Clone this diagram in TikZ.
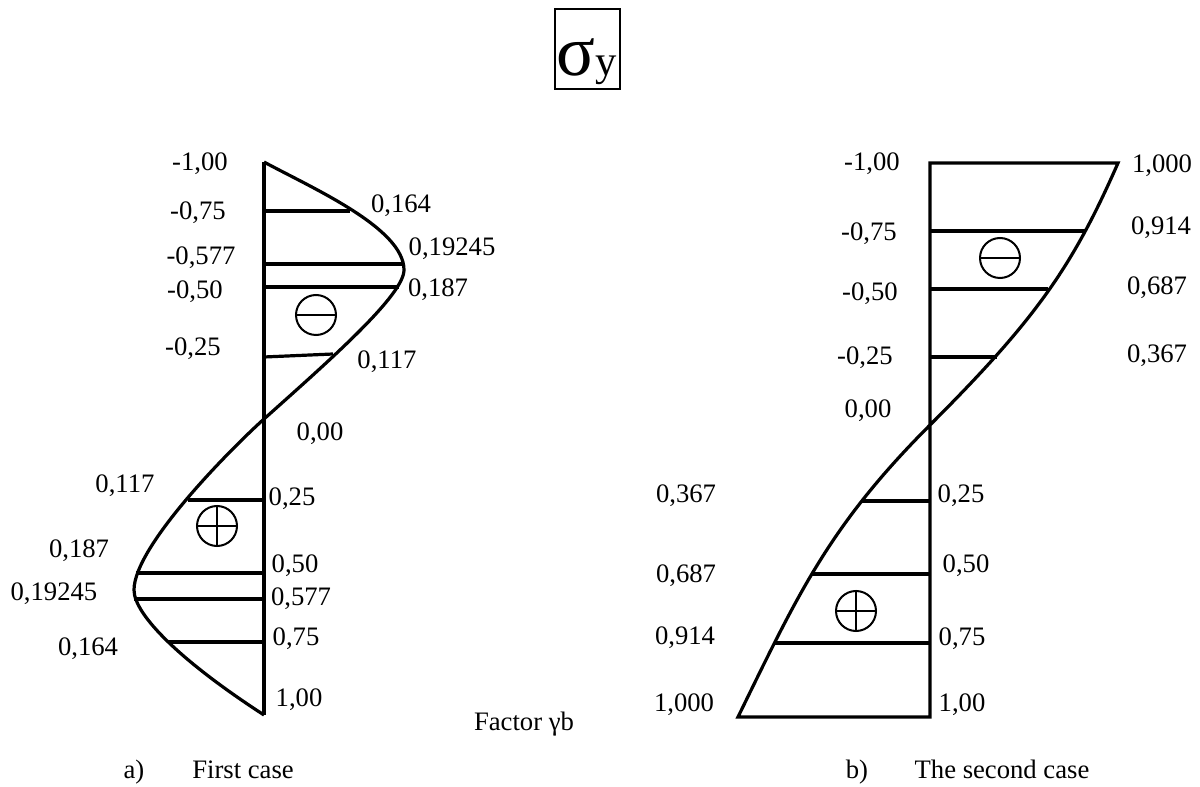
\documentclass[tikz,border=0pt]{standalone}
\usepackage{fontspec}
\setmainfont{Liberation Serif}

\tikzset{
  lbl/.style={anchor=base, inner sep=0pt, font=\fontsize{20}{23}\selectfont},
  sign/.style={circle, draw, line width=1.5pt, minimum size=30pt, inner sep=0pt},
}

\begin{document}
\begin{tikzpicture}[x=0.75pt,y=0.75pt,yscale=-1,xscale=1,line width=2.4pt]
  \useasboundingbox (0,0) rectangle (1200,787);

  %title box
  \node[draw, line width=2pt, minimum width=48.75pt, minimum height=60pt, inner sep=0pt] (title) at (587.5,49) {};
  \node[anchor=base west, inner sep=0pt] (sigma) at (555,76) {\fontsize{54}{54}\selectfont σ\fontsize{32}{32}\selectfont y};

  %first case: points of the curve
  \coordinate (la0) at (264,162);
  \coordinate (la1) at (350,211);
  \coordinate (la3) at (404,264);
  \coordinate (la4) at (399,287);
  \coordinate (la6) at (333,354);
  \coordinate (la7) at (264,419);
  \coordinate (la8) at (188,500);
  \coordinate (la10) at (136,573);
  \coordinate (la11) at (134,599);
  \coordinate (la12) at (168,642);
  \coordinate (la13) at (264,715);

  \draw (la0) -- (la13);
  \draw (la0) .. controls (312,188) and (404,228) .. (404,270)
              .. controls (404,295) and (330,360) .. (la7)
              .. controls (235,445) and (134,545) .. (134,590)
              .. controls (134,615) and (182,662) .. (la13);
  \draw (la1 -| la0) -- (la1);
  \draw (la3 -| la0) -- (la3);
  \draw (la4 -| la0) -- (la4);
  \draw (264,357) -- (la6);
  \draw (la8 -| la0) -- (la8);
  \draw (la10 -| la0) -- (la10);
  \draw (la11 -| la0) -- (la11);
  \draw (la12 -| la0) -- (la12);

  \node[sign] (lminus) at (316,315) {};
  \draw[line width=1.5pt] (lminus.west) -- (lminus.east);
  \node[sign] (lplus) at (217,526) {};
  \draw[line width=1.5pt] (lplus.west) -- (lplus.east) (lplus.north) -- (lplus.south);

  \node[lbl] (lm100) at (200,171) {-1,00};
  \node[lbl] (lm075) at (198,220) {-0,75};
  \node[lbl] (lm0577) at (201,265) {-0,577};
  \node[lbl] (lm050) at (195,299) {-0,50};
  \node[lbl] (lm025) at (193,356) {-0,25};
  \node[lbl] (lv164a) at (401,213) {0,164};
  \node[lbl] (lv192a) at (452,256) {0,19245};
  \node[lbl] (lv187a) at (438,297) {0,187};
  \node[lbl] (lv117a) at (387,369) {0,117};
  \node[lbl] (lz000) at (320,441) {0,00};
  \node[lbl] (lv117b) at (125,493) {0,117};
  \node[lbl] (lp025) at (292,506) {0,25};
  \node[lbl] (lv187b) at (79,558) {0,187};
  \node[lbl] (lp050) at (295,573) {0,50};
  \node[lbl] (lv192b) at (54,601) {0,19245};
  \node[lbl] (lp0577) at (301,605) {0,577};
  \node[lbl] (lv164b) at (88,655) {0,164};
  \node[lbl] (lp075) at (296,646) {0,75};
  \node[lbl] (lp100) at (299,706) {1,00};

  %second case: points of the curve
  \coordinate (rt) at (930,163);
  \coordinate (rb) at (930,717);
  \coordinate (ra0) at (1118,163);
  \coordinate (ra1) at (1086,231);
  \coordinate (ra2) at (1048,289);
  \coordinate (ra3) at (997,357);
  \coordinate (ra4) at (930,425);
  \coordinate (ra5) at (861,501);
  \coordinate (ra6) at (811,574);
  \coordinate (ra7) at (774,643);
  \coordinate (ra8) at (738,717);

  \draw (rb) -- (rt) -- (ra0)
        .. controls (1072,268) and (1035,320) .. (ra4)
        .. controls (830,525) and (799,592) .. (ra8) -- cycle;
  \draw (ra1 -| rt) -- (ra1);
  \draw (ra2 -| rt) -- (ra2);
  \draw (ra3 -| rt) -- (ra3);
  \draw (ra5 -| rt) -- (ra5);
  \draw (ra6 -| rt) -- (ra6);
  \draw (ra7 -| rt) -- (ra7);

  \node[sign] (rminus) at (1000,258) {};
  \draw[line width=1.5pt] (rminus.west) -- (rminus.east);
  \node[sign] (rplus) at (856,611) {};
  \draw[line width=1.5pt] (rplus.west) -- (rplus.east) (rplus.north) -- (rplus.south);

  \node[lbl] (rm100) at (872,171) {-1,00};
  \node[lbl] (rm075) at (869,241) {-0,75};
  \node[lbl] (rm050) at (870,301) {-0,50};
  \node[lbl] (rm025) at (865,365) {-0,25};
  \node[lbl] (rz000) at (868,418) {0,00};
  \node[lbl] (rv1000a) at (1162,173) {1,000};
  \node[lbl] (rv914a) at (1161,235) {0,914};
  \node[lbl] (rv687a) at (1157,295) {0,687};
  \node[lbl] (rv367a) at (1157,363) {0,367};
  \node[lbl] (rv367b) at (686,503) {0,367};
  \node[lbl] (rp025) at (961,503) {0,25};
  \node[lbl] (rv687b) at (686,583) {0,687};
  \node[lbl] (rp050) at (966,573) {0,50};
  \node[lbl] (rv914b) at (685,644) {0,914};
  \node[lbl] (rp075) at (962,645) {0,75};
  \node[lbl] (rv1000b) at (684,711) {1,000};
  \node[lbl] (rp100) at (962,711) {1,00};

  %captions
  \node[lbl] (factor) at (524,730) {Factor γb};
  \node[lbl] (capa) at (134,778) {a)};
  \node[lbl] (capatext) at (243,778) {First case};
  \node[lbl] (capb) at (857,778) {b)};
  \node[lbl] (capbtext) at (1002,778) {The second case};

\end{tikzpicture}
\end{document}
